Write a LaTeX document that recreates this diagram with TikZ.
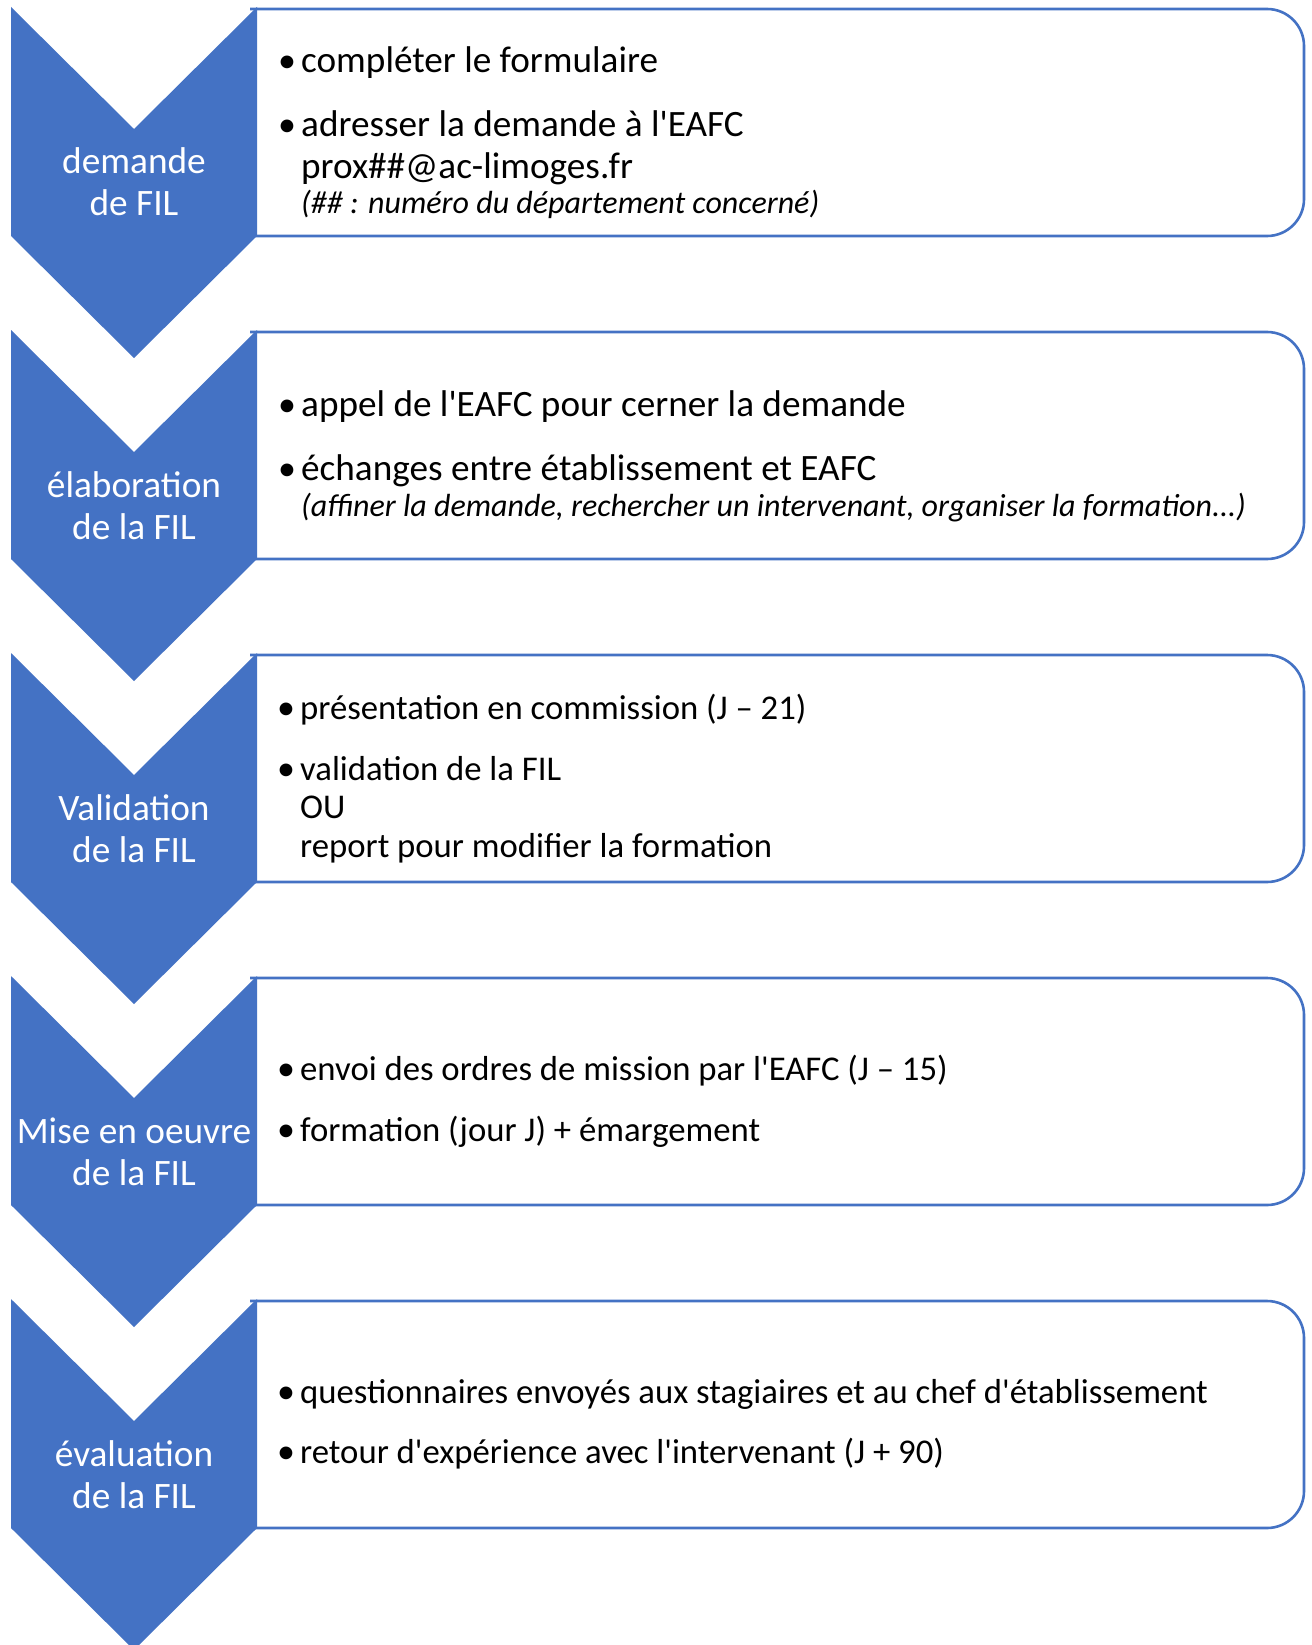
\documentclass[tikz,border=0pt]{standalone}
\usepackage{fontspec}
\setmainfont{Carlito}
\newcommand\apos{\textquotesingle}
\definecolor{fil}{HTML}{4472C4}
\tikzset{
  chev/.style={fill=fil},
  stepbox/.style={draw=fil, line width=2.6pt},
  lbl/.style={text=white, anchor=base, inner sep=0pt, font=\fontsize{37.3}{42}\selectfont},
  bigtxt/.style={anchor=base west, inner sep=0pt, font=\fontsize{37.2}{44}\selectfont},
  ittxt/.style={anchor=base west, inner sep=0pt, font=\fontsize{32}{36}\selectfont\itshape},
  smtxt/.style={anchor=base west, inner sep=0pt, font=\fontsize{34.7}{40}\selectfont},
  bul/.style={anchor=base west, inner sep=0pt, font=\fontsize{36}{40}\selectfont},
}
\begin{document}
\begin{tikzpicture}[x=1pt,y=-1pt]
\useasboundingbox (0,0) rectangle (1311,1645);
\clip (0,0) rectangle (1311,1645);
\fill[white] (0,0) rectangle (1311,1645);
\foreach \y in {7,330,653,976,1299}{
  \draw[stepbox] (250,\y+2) [rounded corners=37] -- (1304,\y+2) -- (1304,\y+229) -- (250,\y+229);
}
\foreach \y in {7,330,653,976,1299}{
  \fill[chev] (11,\y) -- (134,\y+122) -- (257,\y) -- (257,\y+229) -- (134,\y+351) -- (11,\y+229) -- cycle;
}
% chevron labels
\node[lbl] (l1a) at (134,174) {demande};
\node[lbl] (l1b) at (134,216) {de FIL};
\node[lbl] (l2a) at (134,497) {élaboration};
\node[lbl] (l2b) at (134,539) {de la FIL};
\node[lbl] (l3a) at (134,820) {Validation};
\node[lbl] (l3b) at (134,862) {de la FIL};
\node[lbl] (l4a) at (134,1143) {Mise en oeuvre};
\node[lbl] (l4b) at (134,1185) {de la FIL};
\node[lbl] (l5a) at (134,1466) {évaluation};
\node[lbl] (l5b) at (134,1508) {de la FIL};
% row 1
\node[bul] (b1a) at (278,73) {•};
\node[bigtxt] (t1a) at (301,73) {compléter le formulaire};
\node[bul] (b1b) at (278,137) {•};
\node[bigtxt] (t1b) at (301,137) {adresser la demande à l\apos EAFC};
\node[bigtxt] (t1c) at (301,179) {prox\#\#@ac-limoges.fr};
\node[ittxt] (t1d) at (301,214) {(\#\# : numéro du département concerné)};
% row 2
\node[bul] (b2a) at (278,416) {•};
\node[bigtxt] (t2a) at (301,416) {appel de l\apos EAFC pour cerner la demande};
\node[bul] (b2b) at (278,480) {•};
\node[bigtxt] (t2b) at (301,480) {échanges entre établissement et EAFC};
\node[ittxt] (t2c) at (301,516) {(affiner la demande, rechercher un intervenant, organiser la formation.{}.{}.)};
% row 3
\node[bul] (b3a) at (277,719) {•};
\node[smtxt] (t3a) at (300,719) {présentation en commission (J – 21)};
\node[bul] (b3b) at (277,780) {•};
\node[smtxt] (t3b) at (300,780) {validation de la FIL};
\node[smtxt] (t3c) at (300,818) {OU};
\node[smtxt] (t3d) at (300,857) {report pour modifier la formation};
% row 4
\node[bul] (b4a) at (277,1080) {•};
\node[smtxt] (t4a) at (300,1080) {envoi des ordres de mission par l\apos EAFC (J – 15)};
\node[bul] (b4b) at (277,1141) {•};
\node[smtxt] (t4b) at (300,1141) {formation (jour J) + émargement};
% row 5
\node[bul] (b5a) at (277,1403) {•};
\node[smtxt] (t5a) at (300,1403) {questionnaires envoyés aux stagiaires et au chef d\apos établissement};
\node[bul] (b5b) at (277,1463) {•};
\node[smtxt] (t5b) at (300,1463) {retour d\apos expérience avec l\apos intervenant (J + 90)};
\end{tikzpicture}
\end{document}
